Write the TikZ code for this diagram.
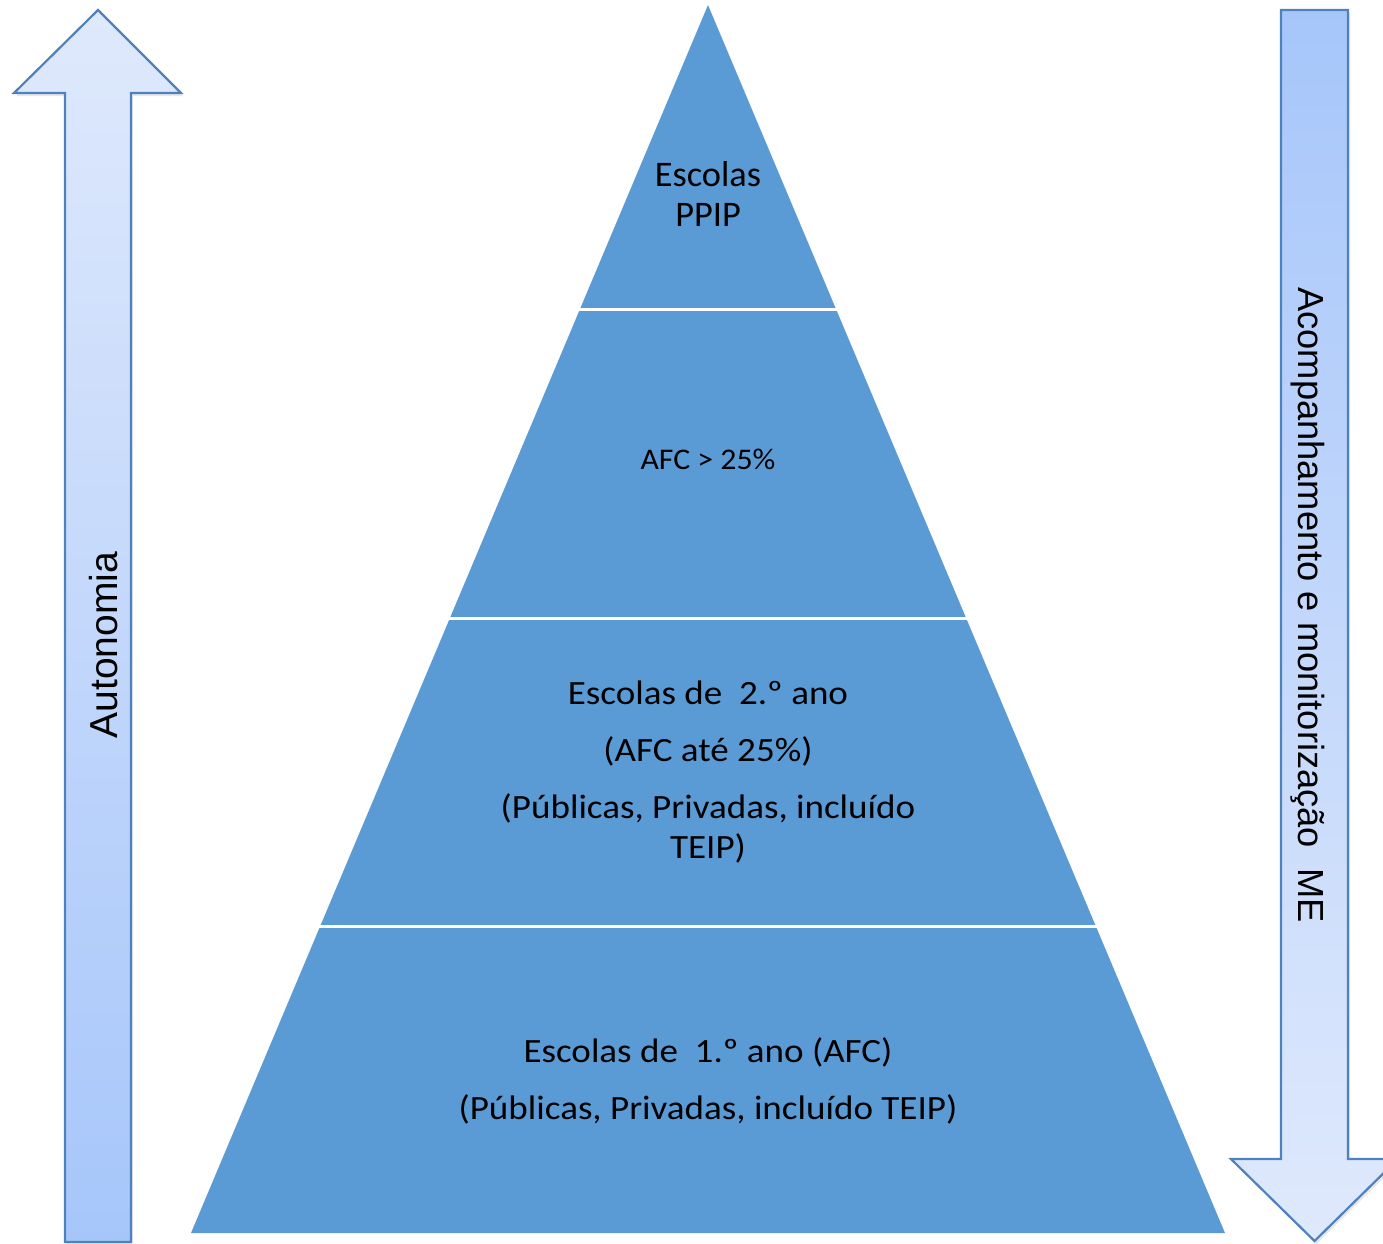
\documentclass[tikz,border=0pt]{standalone}
\usepackage{fontspec}
\setmainfont{Carlito}
\newfontfamily\arialf{Liberation Sans}
\usetikzlibrary{shadows}
\definecolor{pyr}{HTML}{5B9BD5}
\definecolor{arrline}{HTML}{4F81BD}
\definecolor{arrlight}{HTML}{DFE9FC}
\definecolor{arrdark}{HTML}{A6C6FA}
\tikzset{
  layer/.style={fill=pyr, draw=none},
  sep/.style={draw=white, line width=3pt},
  bigarrow/.style={draw=arrline, line width=2.2pt, line join=miter,
     drop shadow={opacity=0.18, shadow xshift=2pt, shadow yshift=-3pt}},
  ptext/.style={font=\fontsize{34}{40}\selectfont, align=center, anchor=base,
     xscale=1.09, transform shape, inner sep=0pt},
  vtext/.style={anchor=base, inner sep=0pt},
}
\begin{document}
\begin{tikzpicture}[x=1pt,y=1pt]
\useasboundingbox (0,0) rectangle (1383,-1243);
% pyramid
\fill[layer] (708,-5) -- (1225,-1233) -- (191,-1233) -- cycle;
\coordinate (l1) at (580,-309); \coordinate (r1) at (836,-309);
\coordinate (l2) at (450,-618); \coordinate (r2) at (966,-618);
\coordinate (l3) at (320,-926); \coordinate (r3) at (1096,-926);
\draw[sep] ([xshift=-4pt]l1) -- ([xshift=4pt]r1);
\draw[sep] ([xshift=-4pt]l2) -- ([xshift=4pt]r2);
\draw[sep] ([xshift=-4pt]l3) -- ([xshift=4pt]r3);
% left arrow (up)
\path[bigarrow, top color=arrlight, bottom color=arrdark]
  (65,-1242) -- (65,-93) -- (14,-93) -- (98,-10) -- (181,-93) -- (131,-93) -- (131,-1242) -- cycle;
% right arrow (down)
\path[bigarrow, top color=arrdark, bottom color=arrlight]
  (1281,-10) -- (1348,-10) -- (1348,-1159) -- (1398,-1159) -- (1314.5,-1241) -- (1231,-1159) -- (1281,-1159) -- cycle;
% texts (multi-line nodes: base = baseline of last line)
\node[font=\fontsize{36}{40}\selectfont, align=center, anchor=base, inner sep=0pt, xscale=1.01, transform shape] (t1) at (708,-226) {Escolas\\PPIP};
\node[font=\fontsize{30}{35}\selectfont, anchor=base, inner sep=0pt, xscale=1.06, transform shape] (t2) at (708,-469) {AFC > 25\%};
\node[ptext] (t3a) at (708,-704) {Escolas de\ \ 2.º ano};
\node[ptext] (t3b) at (708,-761) {(AFC até 25\%)};
\node[ptext] (t3c) at (708,-858) {(Públicas, Privadas, incluído\\TEIP)};
\node[ptext] (t4a) at (708,-1062) {Escolas de\ \ 1.º ano (AFC)};
\node[ptext] (t4b) at (708,-1119) {(Públicas, Privadas, incluído TEIP)};
\node[vtext, rotate=90, font=\arialf\fontsize{39}{44}\selectfont] (aut) at (117,-645) {Autonomia};
\node[vtext, rotate=-90, font=\arialf\fontsize{36.3}{42}\selectfont] (acomp) at (1298,-605) {Acompanhamento e monitorização\ \ ME};
\end{tikzpicture}
\end{document}
